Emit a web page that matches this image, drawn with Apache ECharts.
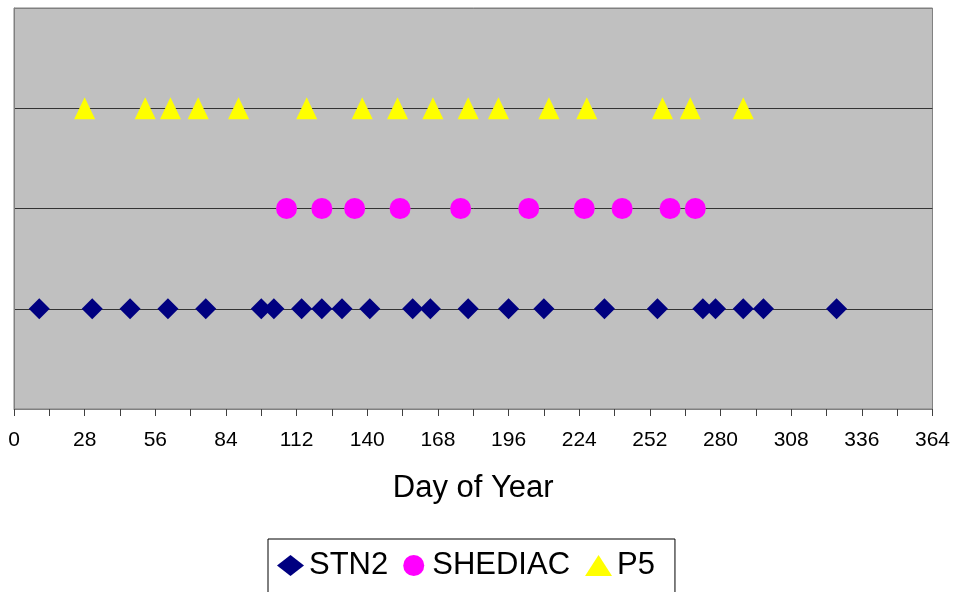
<!DOCTYPE html>
<html>
<head>
<meta charset="utf-8">
<script src="https://cdn.jsdelivr.net/npm/echarts@6/dist/echarts.min.js"></script>
<style>
html,body{margin:0;padding:0;background:#fff}
#chart{width:953px;height:592px}
</style>
</head>
<body>
<div id="chart"></div>
<script>
// sampling days, one row per station
var stn2Days = [10, 31, 46, 61, 76, 98, 103, 114, 122, 130, 141, 158, 165, 180, 196, 210, 234, 255, 273, 278, 289, 297, 326]
var shediacDays = [108, 122, 135, 153, 177, 204, 226, 241, 260, 270]
var p5Days = [28, 52, 62, 73, 89, 116, 138, 152, 166, 180, 192, 212, 227, 257, 268, 289]
var seriesNames = ['STN2', 'SHEDIAC', 'P5']
var seriesLevels = [1, 2, 3]
var xTicks = {min: 0, max: 364, step: 28}

function makeSerie(name, days, level, symbol, size, color){
    return {
        name: name,
        type: 'scatter',
        symbol: symbol,
        symbolSize: size,
        itemStyle: {color: color, opacity: 1},
        data: days.map(function(d){ return [d, level] })
    }
}

var chart = echarts.init(document.getElementById('chart'))
chart.setOption({
    animation: false,
    textStyle: {fontFamily: 'Liberation Sans, Arial, sans-serif'},
    grid: {
        left: 14, right: 18, top: 8, bottom: 183,
        show: true, backgroundColor: '#c0c0c0',
        borderColor: '#808080', borderWidth: 1
    },
    legend: {
        data: seriesNames,
        left: 268,
        top: 539,
        padding: [11, 20, 14, 9],
        itemWidth: 27,
        itemHeight: 21,
        itemGap: 15,
        borderColor: '#000',
        borderWidth: 1,
        textStyle: {fontSize: 31, color: '#000'}
    },
    xAxis: {
        type: 'value',
        min: xTicks.min,
        max: xTicks.max,
        interval: xTicks.step,
        name: 'Day of Year',
        nameLocation: 'middle',
        nameGap: 64,
        nameTextStyle: {fontSize: 31, color: '#000'},
        axisLine: {lineStyle: {color: '#808080'}},
        axisTick: {length: 7, lineStyle: {color: '#404040'}},
        minorTick: {show: true, splitNumber: 2, length: 7, lineStyle: {color: '#404040'}},
        axisLabel: {fontSize: 21, color: '#000', margin: 21},
        splitLine: {show: false}
    },
    yAxis: {
        type: 'value',
        min: 0,
        max: 4,
        interval: 1,
        axisLine: {show: true, lineStyle: {color: '#808080'}},
        axisTick: {show: false},
        axisLabel: {show: false},
        splitLine: {lineStyle: {color: ['#808080', '#333', '#333', '#333', '#808080'], width: 1}}
    },
    series: [
        makeSerie(seriesNames[0], stn2Days, seriesLevels[0], 'diamond', 21, '#000080'),
        makeSerie(seriesNames[1], shediacDays, seriesLevels[1], 'circle', 21, '#ff00ff'),
        makeSerie(seriesNames[2], p5Days, seriesLevels[2], 'triangle', [21, 22], '#ffff00')
    ]
})
</script>
</body>
</html>
